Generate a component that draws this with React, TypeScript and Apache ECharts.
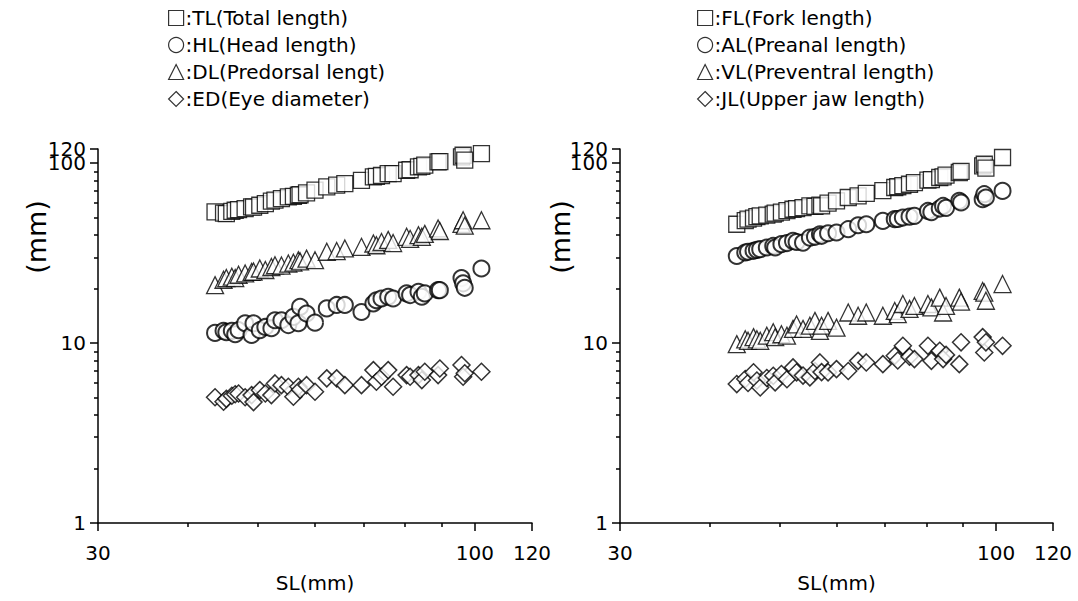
import React, { useEffect, useRef } from "react";
import * as echarts from "echarts";

// Standard length of each fish (mm)
const SL = [43.6, 44.8, 45.2, 46.0, 46.5, 47.0, 48.0, 49.0, 49.3, 50.3, 51.2, 52.2, 52.8, 53.9, 55.1, 56.0, 56.9, 57.2, 58.4, 60.0,
  62.3, 64.3, 66.0, 69.6, 72.3, 73.0, 74.2, 75.8, 77.0, 80.4, 81.3, 83.5, 84.4, 85.2, 88.9, 89.4, 95.8, 96.3, 96.8, 102.1];

// Left panel
const TL = [53.6, 52.8, 52.5, 54.0, 54.8, 55.2, 56.0, 57.2, 57.0, 58.4, 59.7, 61.5, 62.3, 63.6, 65.0, 65.5, 66.4, 66.8, 68.5, 70.8,
  73.9, 75.5, 77.1, 80.4, 83.9, 84.5, 85.5, 87.6, 87.6, 91.4, 92.0, 95.4, 96.0, 97.5, 101.7, 102.0, 108.4, 110.8, 104.0, 113.2];
const HL = [11.4, 11.7, 11.5, 11.7, 11.2, 11.8, 12.9, 11.1, 12.9, 11.8, 12.3, 12.1, 13.4, 13.4, 12.6, 14.0, 12.9, 15.9, 14.6, 13.0,
  15.6, 16.3, 16.3, 14.9, 16.6, 17.3, 17.7, 18.1, 17.7, 18.9, 18.5, 19.3, 18.1, 18.9, 19.7, 19.7, 23.0, 21.5, 20.3, 26.0];
const DL = [21.0, 22.5, 23.0, 23.4, 23.0, 24.0, 24.4, 24.9, 25.0, 26.0, 25.5, 26.5, 27.1, 27.0, 27.7, 28.0, 28.9, 28.5, 29.5, 28.9,
  32.2, 32.5, 33.6, 34.3, 35.8, 35.0, 36.5, 37.5, 36.0, 39.0, 38.0, 39.8, 39.0, 40.5, 43.4, 42.0, 46.0, 48.2, 45.0, 48.2];
const ED = [5.0, 4.72, 4.9, 5.1, 5.2, 5.25, 5.0, 5.14, 4.7, 5.48, 5.25, 5.14, 5.97, 5.84, 5.72, 5.03, 5.72, 5.5, 5.84, 5.37,
  6.37, 6.37, 5.84, 5.84, 7.08, 6.1, 6.5, 7.08, 5.72, 6.64, 6.5, 6.64, 6.23, 6.93, 6.64, 7.23, 7.55, 6.5, 6.8, 6.93];

// Right panel
const FL = [45.8, 48.0, 48.9, 49.5, 50.5, 51.0, 51.5, 52.1, 52.8, 53.5, 54.5, 55.5, 56.0, 56.7, 57.9, 57.5, 58.5, 58.0, 60.0, 61.8,
  64.5, 65.8, 68.0, 70.5, 73.3, 74.0, 75.0, 76.4, 78.1, 80.5, 81.0, 83.3, 84.0, 86.0, 88.8, 90.0, 96.6, 98.7, 94.0, 107.6];
const AL = [30.5, 31.9, 32.2, 32.6, 33.0, 33.3, 34.0, 34.7, 34.0, 35.5, 36.0, 37.0, 36.5, 36.2, 38.6, 39.0, 40.3, 39.5, 40.8, 41.2,
  43.0, 45.2, 45.8, 47.8, 48.9, 49.0, 49.9, 50.5, 51.0, 54.3, 53.5, 56.0, 57.9, 56.5, 61.8, 60.5, 63.1, 67.3, 64.5, 70.2];
const VL = [9.87, 10.5, 10.3, 10.8, 10.5, 10.3, 11.0, 11.5, 10.8, 11.2, 11.0, 12.0, 12.7, 12.0, 12.5, 13.3, 11.7, 12.5, 13.3, 12.2,
  14.8, 14.2, 14.8, 14.2, 15.1, 14.5, 16.5, 15.5, 16.1, 16.5, 15.8, 17.9, 14.8, 16.1, 17.9, 17.0, 19.5, 19.1, 17.2, 21.3];
const JL = [5.92, 6.31, 6.0, 6.88, 6.2, 5.67, 6.4, 6.58, 6.05, 6.73, 6.3, 7.33, 6.88, 6.6, 6.45, 7.0, 7.81, 6.9, 6.88, 7.17,
  7.0, 7.97, 7.81, 7.64, 8.5, 8.0, 9.66, 8.4, 8.15, 9.66, 7.97, 9.06, 8.15, 8.6, 7.64, 10.1, 10.8, 8.87, 10.1, 9.66];

const X_MAJOR = [30, 100, 119.9999];
const X_MINOR = [40, 50, 60, 70, 80, 90];
const Y_MAJOR = [1, 10, 100];
const Y_TOP = [119.9999];
const Y_MINOR = [2, 3, 4, 5, 6, 7, 8, 9, 20, 30, 40, 50, 60, 70, 80, 90];

const LEFT_NAMES = ["TL(Total length)", "HL(Head length)", "DL(Predorsal lengt)", "ED(Eye diameter)"];
const RIGHT_NAMES = ["FL(Fork length)", "AL(Preanal length)", "VL(Preventral length)", "JL(Upper jaw length)"];

const FONT = "DejaVu Sans";

export default function App() {
  const ref = useRef<HTMLDivElement>(null);
  useEffect(() => {
    const chart = echarts.init(ref.current!, null, { renderer: "svg" });
    const lineStyle = { color: "#000", width: 1.5 };
    const labelStyle = { color: "#000", fontSize: 20, fontFamily: FONT };
    const fmt = (v: number) => String(Math.round(v));

    const makeX = (gridIndex: number, major: boolean) => ({
      type: "log",
      logBase: 10,
      gridIndex,
      min: 30,
      max: 120,
      position: "bottom",
      splitLine: { show: false },
      axisLine: { show: major, lineStyle },
      axisTick: { show: true, customValues: major ? X_MAJOR : X_MINOR, length: major ? 8 : 4, inside: false, lineStyle },
      axisLabel: major
        ? { show: true, customValues: X_MAJOR, margin: 20, formatter: fmt, ...labelStyle }
        : { show: false },
      name: major ? "SL(mm)" : "",
      nameLocation: "middle",
      nameGap: 50,
      nameTextStyle: { ...labelStyle },
    });
    // kind: 0 = main ticks + labels, 1 = minor ticks, 2 = top (120) tick + label
    const makeY = (gridIndex: number, kind: number) => ({
      type: "log",
      logBase: 10,
      gridIndex,
      min: 1,
      max: 120,
      position: "left",
      splitLine: { show: false },
      axisLine: { show: kind === 0, lineStyle },
      axisTick: {
        show: true,
        customValues: kind === 0 ? Y_MAJOR : kind === 1 ? Y_MINOR : Y_TOP,
        length: kind === 1 ? 4 : 8,
        inside: false,
        lineStyle,
      },
      axisLabel: kind === 1
        ? { show: false }
        : { show: true, customValues: kind === 0 ? Y_MAJOR : Y_TOP, margin: 12, formatter: fmt, ...labelStyle },
    });

    const mk = (name: string, vals: number[], symbol: string, size: number, bw: number, gi: number) => ({
      type: "scatter",
      name,
      xAxisIndex: gi * 2,
      yAxisIndex: gi * 3,
      symbol,
      symbolSize: size,
      itemStyle: { color: "#fff", borderColor: "#000", borderWidth: bw },
      data: SL.map((s, i) => [s, vals[i]]),
    });

    const legendCommon = {
      orient: "vertical",
      top: 8,
      itemWidth: 15,
      itemHeight: 15,
      itemGap: 7,
      padding: 0,
      formatter: (n: string) => ":" + n,
      textStyle: { color: "#000", fontSize: 20, fontFamily: FONT, padding: [0, 0, 0, -3] },
      itemStyle: { color: "#fff", borderColor: "#000", borderWidth: 1.2 },
      selectedMode: false,
    };

    const nameStyle = { text: "(mm)", fontSize: 27, fontFamily: FONT, fill: "#000", align: "center", verticalAlign: "middle" };

    chart.setOption({
      animation: false,
      backgroundColor: "#fff",
      grid: [
        { left: 98, right: 546, top: 149, bottom: 78 },
        { left: 620, right: 25, top: 149, bottom: 78 },
      ],
      xAxis: [makeX(0, true), makeX(0, false), makeX(1, true), makeX(1, false)],
      yAxis: [makeY(0, 0), makeY(0, 1), makeY(0, 2), makeY(1, 0), makeY(1, 1), makeY(1, 2)],
      legend: [
        { ...legendCommon, left: 168, data: LEFT_NAMES },
        { ...legendCommon, left: 697, data: RIGHT_NAMES },
      ],
      graphic: [
        { type: "text", x: 36, y: 237, rotation: Math.PI / 2, style: { ...nameStyle } },
        { type: "text", x: 560, y: 237, rotation: Math.PI / 2, style: { ...nameStyle } },
      ],
      series: [
        mk(LEFT_NAMES[0], TL, "rect", 16, 1.3, 0),
        mk(LEFT_NAMES[1], HL, "circle", 16, 2, 0),
        mk(LEFT_NAMES[2], DL, "triangle", 17, 1.3, 0),
        mk(LEFT_NAMES[3], ED, "diamond", 17, 1.5, 0),
        mk(RIGHT_NAMES[0], FL, "rect", 16, 1.3, 1),
        mk(RIGHT_NAMES[1], AL, "circle", 16, 2, 1),
        mk(RIGHT_NAMES[2], VL, "triangle", 17, 1.3, 1),
        mk(RIGHT_NAMES[3], JL, "diamond", 17, 1.5, 1),
      ],
    });
    return () => chart.dispose();
  }, []);
  return <div ref={ref} style={{ width: 1078, height: 601, position: "absolute", left: 0, top: 0 }} />;
}
